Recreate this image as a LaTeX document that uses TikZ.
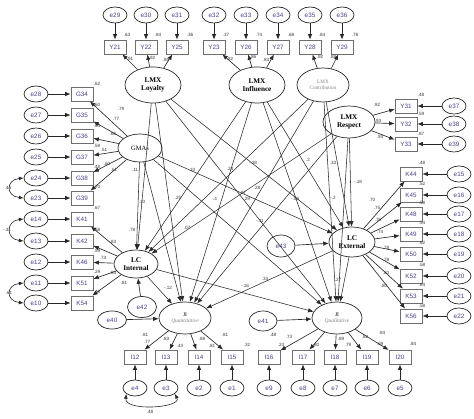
\documentclass[tikz,border=0pt]{standalone}
\usepackage{fontspec}
\setmainfont{Liberation Serif}
\setsansfont{Liberation Sans}
\usetikzlibrary{shapes.geometric,arrows.meta}
\definecolor{txtp}{RGB}{80,60,135}
\definecolor{ln}{RGB}{40,40,40}
\definecolor{bx}{RGB}{110,110,110}
\begin{document}
\begin{tikzpicture}[x=1pt,y=-1pt,
 err/.style={ellipse,draw=ln,line width=0.7pt,minimum width=24pt,minimum height=16pt,inner sep=0pt,font=\sffamily\fontsize{6.3}{7}\selectfont,text=txtp},
 serr/.style={err,minimum width=29pt,minimum height=21pt},
 ind/.style={rectangle,draw=bx,line width=0.7pt,minimum width=22pt,minimum height=14pt,inner sep=0pt,font=\sffamily\fontsize{6.3}{7}\selectfont,text=txtp},
 lat/.style={ellipse,draw=ln,line width=0.7pt,inner sep=0pt,align=center,font=\fontsize{7.2}{8}\selectfont\bfseries},
 arr/.style={-{Latex[length=5.5pt,width=4.4pt]},draw=ln,line width=0.65pt},
 sarr/.style={-{Latex[length=5.5pt,width=4.4pt]},draw=ln,line width=0.55pt},
 cov/.style={{Latex[length=4.8pt,width=3.8pt]}-{Latex[length=4.8pt,width=3.8pt]},draw=ln,line width=0.6pt},
 num/.style={font=\sffamily\fontsize{4.6}{5}\selectfont,inner sep=0pt,text=black!80}]
\useasboundingbox (0,0) rectangle (474,419);

% latent variables
\node[lat,minimum width=56pt,minimum height=36pt] (LL) at (153,85) {LMX\\Loyalty};
\node[lat,minimum width=56pt,minimum height=36pt] (LI) at (257,85) {LMX\\Influence};
\node[lat,minimum width=52pt,minimum height=34pt,font=\fontsize{5.2}{6}\selectfont,text=gray] (LC) at (323,85) {LMX\\Contribution};
\node[lat,minimum width=52pt,minimum height=32pt] (LR) at (349,122) {LMX\\Respect};
\node[lat,minimum width=44pt,minimum height=28pt,font=\fontsize{6.5}{7}\selectfont] (GM) at (140,148) {GMAs};
\node[lat,minimum width=44pt,minimum height=28pt] (LCI) at (136,264) {LC\\Internal};
\node[lat,minimum width=46pt,minimum height=30pt] (LCE) at (352,242) {LC\\External};
\node[lat,minimum width=52pt,minimum height=32pt,font=\fontsize{5.5}{6}\selectfont] (JQn) at (185,318) {JI\\\textit{\color{gray}Quantitative}};
\node[lat,minimum width=50pt,minimum height=32pt,font=\fontsize{5.5}{6}\selectfont] (JQl) at (337,318) {JI\\\textit{\color{gray}Qualitative}};

% structural disturbances
\node[serr] (e42) at (142,307) {e42};
\node[serr,minimum height=18pt] (e40) at (112,320) {e40};
\node[serr,minimum width=28pt,minimum height=20pt] (e41) at (263,321) {e41};
\node[serr,minimum width=28pt,minimum height=22pt] (e43) at (281,246) {e43};
\draw[arr] (e42) -- (LCI);
\draw[arr] (e40) -- (JQn);
\draw[arr] (e41) -- (JQl);
\draw[arr] (e43) -- (LCE);

% top indicators
\foreach \e/\y/\x/\s in {29/Y21/115/LL,30/Y22/146/LL,31/Y25/177/LL,32/Y23/214/LI,33/Y26/246/LI,34/Y27/278/LI,35/Y28/310/LC,36/Y29/342/LC}{
  \node[err] (e\e) at (\x,15) {e\e};
  \node[ind] (\y) at (\x,47) {\y};
  \draw[arr] (e\e) -- (\y);
  \draw[arr] (\s) -- (\y);
}
% G indicators
\foreach \e/\y/\yy in {28/G34/94,27/G35/115,26/G36/136,25/G37/157,24/G38/178,23/G39/198}{
  \node[err] (e\e) at (36,\yy) {e\e};
  \node[ind] (\y) at (82,\yy) {\y};
  \draw[arr] (e\e) -- (\y);
  \draw[arr] (GM) -- (\y);
}
% K left indicators
\foreach \e/\y/\yy in {14/K41/219,13/K42/241,12/K46/262,11/K51/283,10/K54/303}{
  \node[err] (e\e) at (36,\yy) {e\e};
  \node[ind] (\y) at (82,\yy) {\y};
  \draw[arr] (e\e) -- (\y);
  \draw[arr] (LCI) -- (\y);
}
% Y right indicators
\foreach \e/\y/\yy in {37/Y31/106,38/Y32/124,39/Y33/144}{
  \node[err] (e\e) at (454,\yy) {e\e};
  \node[ind] (\y) at (406,\yy) {\y};
  \draw[arr] (e\e) -- (\y);
  \draw[arr] (LR) -- (\y);
}
% K right indicators
\foreach \e/\y/\yy in {15/K44/174,16/K45/195,17/K48/214,18/K49/234,19/K50/254,20/K52/276,21/K53/296,22/K56/316}{
  \node[err] (e\e) at (459,\yy) {e\e};
  \node[ind] (\y) at (411,\yy) {\y};
  \draw[arr] (e\e) -- (\y);
  \draw[arr] (LCE) -- (\y);
}
% I indicators
\foreach \e/\y/\x/\s in {4/I12/135/JQn,3/I13/166/JQn,2/I14/199/JQn,1/I15/232/JQn,9/I16/269/JQl,8/I17/303/JQl,7/I18/335/JQl,6/I19/367/JQl,5/I20/400/JQl}{
  \node[err] (e\e) at (\x,388) {e\e};
  \node[ind] (\y) at (\x,357) {\y};
  \draw[arr] (e\e) -- (\y);
  \draw[arr] (\s) -- (\y);
}

% structural paths
\foreach \s in {LL,LI,LC,LR,GM}{
  \foreach \t in {LCI,LCE,JQn,JQl}{
    \draw[sarr] (\s) -- (\t);
  }
}
\draw[sarr] (LCI) -- (JQn);
\draw[sarr] (LCI) -- (JQl);
\draw[sarr] (LCE) -- (JQn);
\draw[sarr] (LCE) -- (JQl);

% covariances
\draw[cov] (e24.west) .. controls +(-18,2) and +(-18,-2) .. (e23.west);
\draw[cov] (e14.west) .. controls +(-18,2) and +(-18,-2) .. (e13.west);
\draw[cov] (e11.west) .. controls +(-18,2) and +(-18,-2) .. (e10.west);
\draw[cov] (e4.south west) .. controls +(-2,18) and +(8,14) .. (e3.south east);
\node[num] (c1) at (8,188) {.44};
\node[num] (c2) at (7,230) {-.31};
\node[num] (c3) at (9,293) {.61};
\node[num] (c4) at (150,412) {.48};

% top loadings and R2
\node[num] (t1) at (127,35) {.63};
\node[num] (t2) at (158,35) {.84};
\node[num] (t3) at (190,35) {.36};
\node[num] (t4) at (226,35) {.37};
\node[num] (t5) at (259,35) {.74};
\node[num] (t6) at (291,35) {.68};
\node[num] (t7) at (322,35) {.84};
\node[num] (t8) at (355,35) {.78};
\node[num] (t9) at (130,59) {.91};
\node[num] (t10) at (152,58) {.92};
\node[num] (t11) at (166,60) {.85};
\node[num] (t12) at (230,59) {.82};
\node[num] (t13) at (253,57) {.86};
\node[num] (t14) at (266,60) {.83};
\node[num] (t15) at (320,57) {.92};
\node[num] (t16) at (333,57) {.88};

% G and left K numbers
\node[num] (g1) at (97,84) {.62};
\node[num] (g2) at (97,105) {.60};
\node[num] (g3) at (97,126) {.64};
\node[num] (g4) at (97,146) {.59};
\node[num] (g5) at (97,167) {.48};
\node[num] (g6) at (97,187) {.70};
\node[num] (g7) at (97,208) {.67};
\node[num] (g8) at (97,230) {.58};
\node[num] (g9) at (97,251) {.59};
\node[num] (g10) at (97,272) {.29};
\node[num] (g11) at (97,292) {.48};
\node[num] (g12) at (121,109) {.79};
\node[num] (g13) at (116,119) {.77};
\node[num] (g14) at (113,134) {.66};
\node[num] (g15) at (104,150) {.51};
\node[num] (g16) at (107,164) {.60};
\node[num] (g17) at (114,170) {.61};
\node[num] (k1) at (132,230) {.78};
\node[num] (k2) at (113,242) {.83};
\node[num] (k3) at (103,258) {.73};
\node[num] (k4) at (113,273) {.84};
\node[num] (k5) at (124,283) {.81};

% right numbers
\node[num] (r1) at (377,105) {.82};
\node[num] (r2) at (378,121) {.93};
\node[num] (r3) at (380,137) {.93};
\node[num] (r4) at (421,95) {.48};
\node[num] (r5) at (421,114) {.59};
\node[num] (r6) at (421,134) {.87};
\node[num] (r7) at (372,200) {.70};
\node[num] (r8) at (377,208) {.75};
\node[num] (r9) at (378,220) {.76};
\node[num] (r10) at (380,232) {.74};
\node[num] (r11) at (386,248) {.78};
\node[num] (r12) at (386,260) {.78};
\node[num] (r13) at (386,273) {.80};
\node[num] (r14) at (384,286) {.80};
\node[num] (r15) at (422,163) {.48};
\node[num] (r16) at (422,184) {.52};
\node[num] (r17) at (422,203) {.58};
\node[num] (r18) at (422,223) {.54};
\node[num] (r19) at (422,243) {.62};
\node[num] (r20) at (422,265) {.58};
\node[num] (r21) at (422,285) {.64};
\node[num] (r22) at (422,306) {.58};

% I numbers
\node[num] (i1) at (145,335) {.81};
\node[num] (i2) at (147,342) {.77};
\node[num] (i3) at (166,339) {.83};
\node[num] (i4) at (180,346) {.43};
\node[num] (i5) at (202,339) {.88};
\node[num] (i6) at (212,346) {.81};
\node[num] (i7) at (225,335) {.81};
\node[num] (i8) at (247,345) {.32};
\node[num] (i9) at (273,335) {.48};
\node[num] (i10) at (281,345) {.23};
\node[num] (i11) at (289,337) {.73};
\node[num] (i12) at (316,345) {.80};
\node[num] (i13) at (341,339) {.89};
\node[num] (i14) at (348,345) {.79};
\node[num] (i15) at (365,337) {.82};
\node[num] (i16) at (380,344) {.69};
\node[num] (i17) at (382,333) {.84};
\node[num] (i18) at (413,344) {.84};

% structural path labels
\node[num] (p1) at (135,170) {.11};
\node[num] (p2) at (142,202) {.10};
\node[num] (p3) at (178,198) {.25};
\node[num] (p4) at (215,199) {.4};
\node[num] (p5) at (192,170) {.10};
\node[num] (p6) at (230,169) {.24};
\node[num] (p7) at (253,163) {-.28};
\node[num] (p8) at (257,188) {.28};
\node[num] (p9) at (242,193) {-.07};
\node[num] (p10) at (246,199) {-.29};
\node[num] (p11) at (295,199) {-.09};
\node[num] (p12) at (308,160) {.2};
\node[num] (p13) at (333,163) {.33};
\node[num] (p14) at (333,198) {-.2};
\node[num] (p15) at (358,182) {-.18};
\node[num] (p16) at (187,228) {.07};
\node[num] (p17) at (260,221) {-.11};
\node[num] (p18) at (168,288) {-.12};
\node[num] (p19) at (245,286) {-.16};
\node[num] (p20) at (265,279) {.33};
\node[num] (p21) at (338,280) {.27};
\end{tikzpicture}
\end{document}
